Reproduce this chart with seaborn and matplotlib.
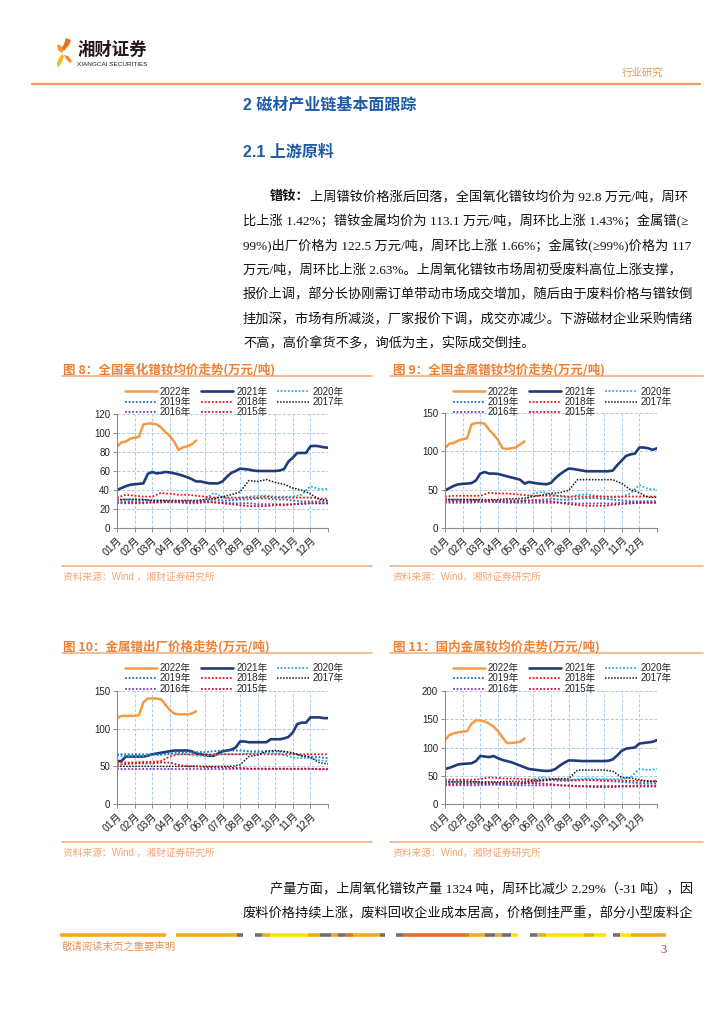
import numpy as np
import pandas as pd
import matplotlib
matplotlib.use('Agg')
import matplotlib.pyplot as plt
from matplotlib.lines import Line2D
from matplotlib.patches import Polygon
import seaborn as sns

# ---------------- data (万元/吨) ----------------
# full-year series: evenly spaced over Jan..Dec ; 2022 series: every quarter month
months = ['01月', '02月', '03月', '04月', '05月', '06月', '07月', '08月', '09月', '10月', '11月', '12月']
years = ['2022年', '2021年', '2020年', '2019年', '2018年', '2017年', '2016年', '2015年']

# 图8 全国氧化镨钕均价
c8_2022 = [86, 90, 91, 94, 95, 96, 109, 110, 110, 109, 106, 101, 97, 91, 82, 85, 86, 88, 92]
c8_2021 = [40, 42, 44, 45.5, 46, 46.5, 47, 57, 59, 57.5, 58, 59, 58.5, 57.5, 56.5, 55, 53.5, 51.5, 49, 49,
           48, 47, 47, 47, 49, 54, 58, 60, 62.5, 62, 61.5, 60.5, 60, 60, 60, 60, 60, 60.5, 62, 70,
           74, 79, 79, 79, 86, 86.5, 86, 85, 84.5]
c8_2020 = [29, 28, 28.5, 29, 28, 28, 27.5, 27, 27, 27, 30, 37, 33, 30, 31, 33, 34, 34, 33, 33, 33, 35, 44, 41, 41]
c8_2019 = [30, 30, 30, 30, 29, 29, 28, 28, 28, 28, 28, 30, 29, 29, 30, 30, 31, 31, 30, 30, 29, 28, 28, 28, 28]
c8_2018 = [32, 35, 34, 33, 33, 37, 36, 35, 35, 34, 33, 32, 32, 32, 32, 32, 32, 33, 32, 32, 32, 32, 32, 31, 31]
c8_2017 = [30, 30, 30, 30, 29, 29, 29, 29, 29, 29, 30, 31, 33, 35, 38, 50, 49, 51, 48, 46, 42, 40, 36, 30, 29]
c8_2016 = [26, 26, 26, 26, 27, 27, 27, 27, 26, 26, 27, 27, 27, 26, 26, 26, 25, 25, 25, 25, 25, 25, 26, 26, 26]
c8_2015 = [27, 27, 27, 27, 27, 27, 28, 28, 28, 28, 28, 27, 26, 25, 24, 23, 23, 23, 24, 24, 25, 26, 26, 26, 26]

# 图9 全国金属镨钕均价
c9_2022 = [104, 110, 111, 114, 116, 117, 135, 137, 137, 136, 128, 122, 115, 104, 103, 104, 105, 109, 113]
c9_2021 = [49, 52, 55, 57, 57.5, 58, 58.5, 62, 71, 73, 71, 71, 70.5, 69, 67.5, 66, 64.5, 63, 58, 60,
           59, 58, 57.5, 57, 59, 65, 70, 74, 77.5, 77, 76, 75, 74, 74, 74, 74, 74, 74, 75, 82,
           88, 94, 96, 97, 105, 105, 104, 102, 104]
c9_2020 = [38, 37, 37, 36, 36, 35, 35, 34, 34, 36, 45, 47, 44, 41, 40, 43, 44, 42, 41, 40, 41, 45, 56, 51, 50]
c9_2019 = [37, 37, 37, 37, 36, 35, 34, 34, 34, 35, 36, 37, 38, 37, 37, 38, 39, 39, 38, 37, 36, 35, 35, 35, 35]
c9_2018 = [41, 42, 42, 42, 42, 46, 45, 45, 44, 43, 42, 42, 42, 42, 41, 41, 41, 41, 41, 41, 41, 41, 41, 41, 41]
c9_2017 = [37, 37, 37, 37, 37, 37, 37, 38, 38, 39, 41, 43, 45, 46, 49, 63, 63, 63, 63, 63, 58, 50, 46, 40, 40]
c9_2016 = [33, 33, 33, 33, 34, 34, 34, 33, 33, 33, 33, 33, 33, 33, 33, 32, 32, 32, 32, 32, 33, 33, 33, 33, 33]
c9_2015 = [35, 35, 35, 35, 35, 36, 36, 36, 36, 36, 36, 35, 35, 33, 31, 30, 29, 29, 29, 30, 31, 32, 33, 33, 33]

# 图10 金属镨出厂价格
c10_2022 = [114, 117, 117, 117, 117, 118, 135, 140, 140, 140, 139, 132, 125, 120, 119, 119, 119, 120, 123]
c10_2021 = [57, 57, 63, 63, 63, 63, 63, 64, 66, 67, 68, 69, 70, 71, 71, 71, 71, 70, 67, 66,
            65, 64, 64, 67, 70, 71, 72, 75, 83, 83, 82, 82, 82, 82, 82, 86, 86, 86, 87, 89,
            95, 106, 108, 108, 115, 115, 115, 114, 114]
c10_2020 = [64, 64, 64, 64, 65, 65, 66, 66, 66, 64, 64, 65, 66, 66, 66, 67, 68, 68, 67, 65, 62, 61, 61, 58, 57]
c10_2019 = [66, 66, 66, 66, 66, 66, 67, 68, 69, 69, 69, 70, 71, 71, 71, 70, 70, 70, 70, 69, 67, 64, 63, 62, 61]
c10_2018 = [55, 55, 55, 56, 56, 57, 63, 66, 66, 66, 66, 66, 66, 66, 66, 66, 66, 66, 66, 66, 66, 66, 66, 66, 66]
c10_2017 = [50, 50, 50, 50, 50, 50, 50, 50, 50, 50, 50, 50, 50, 50, 52, 63, 65, 70, 71, 70, 68, 64, 62, 55, 53]
c10_2016 = [46, 46, 46, 46, 46, 46, 46, 46, 46, 46, 46, 46, 46, 46, 46, 46, 46, 46, 46, 46, 46, 46, 46, 46, 46]
c10_2015 = [52, 53, 54, 54, 54, 55, 55, 52, 50, 50, 49, 49, 49, 48, 48, 47, 47, 47, 47, 47, 47, 47, 47, 46, 46]

# 图11 国内金属钕均价
c11_2022 = [113, 122, 125, 127, 128, 129, 142, 148, 148, 146, 142, 137, 129, 118, 108, 108, 109, 110, 116]
c11_2021 = [62, 64, 67, 70, 71, 71.5, 72, 76, 85, 84, 83, 85, 81, 78, 76, 74, 71, 68, 65, 62,
            61, 60, 59, 58.5, 59, 62, 68, 73, 77, 77, 76.5, 76, 76, 76, 76, 76, 76, 76.5, 79, 86,
            94, 98, 99, 100, 107, 108, 109, 110, 113]
c11_2020 = [37, 37, 36, 36, 36, 35, 35, 34, 34, 36, 44, 47, 45, 43, 42, 44, 45, 45, 44, 44, 44, 47, 62, 60, 62]
c11_2019 = [40, 40, 40, 40, 39, 38, 37, 36, 36, 37, 39, 41, 42, 41, 41, 42, 43, 42, 41, 40, 39, 38, 37, 37, 37]
c11_2018 = [43, 43, 43, 43, 44, 47, 46, 45, 45, 44, 43, 43, 43, 43, 42, 42, 42, 42, 42, 42, 41, 41, 41, 41, 41]
c11_2017 = [39, 39, 39, 39, 39, 39, 39, 40, 40, 40, 41, 42, 44, 45, 45, 60, 60, 60, 60, 58, 47, 46, 43, 40, 40]
c11_2016 = [33, 33, 33, 33, 33, 34, 34, 34, 33, 33, 33, 33, 33, 33, 33, 32, 32, 32, 32, 32, 32, 32, 33, 33, 33]
c11_2015 = [35, 35, 36, 36, 36, 37, 37, 37, 37, 37, 37, 36, 35, 33, 32, 31, 31, 30, 30, 30, 31, 31, 31, 31, 31]

titles = ['图 8：全国氧化镨钕均价走势(万元/吨)', '图 9：全国金属镨钕均价走势(万元/吨)',
          '图 10：金属镨出厂价格走势(万元/吨)', '图 11：国内金属钕均价走势(万元/吨)']
sources = ['资料来源：Wind ，湘财证券研究所', '资料来源：Wind，湘财证券研究所',
           '资料来源：Wind ，湘财证券研究所', '资料来源：Wind，湘财证券研究所']
yticks = [[0, 20, 40, 60, 80, 100, 120], [0, 50, 100, 150], [0, 50, 100, 150], [0, 50, 100, 150, 200]]

body = ['上周镨钕价格涨后回落，全国氧化镨钕均价为 92.8 万元/吨，周环',
        '比上涨 1.42%；镨钕金属均价为 113.1 万元/吨，周环比上涨 1.43%；金属镨(≥',
        '99%)出厂价格为 122.5 万元/吨，周环比上涨 1.66%；金属钕(≥99%)价格为 117',
        '万元/吨，周环比上涨 2.63%。上周氧化镨钕市场周初受废料高位上涨支撑，',
        '报价上调，部分长协刚需订单带动市场成交增加，随后由于废料价格与镨钕倒',
        '挂加深，市场有所减淡，厂家报价下调，成交亦减少。下游磁材企业采购情绪',
        '不高，高价拿货不多，询低为主，实际成交倒挂。']
body2 = ['产量方面，上周氧化镨钕产量 1324 吨，周环比减少 2.29%（-31 吨），因',
         '废料价格持续上涨，废料回收企业成本居高，价格倒挂严重，部分小型废料企']

# ---------------- styles ----------------
sns.set_style('ticks')
CJK = ['Noto Sans CJK SC', 'DejaVu Sans']
SANS = ['Liberation Sans', 'Noto Sans CJK SC', 'DejaVu Sans']
SERIF = ['Liberation Serif', 'Noto Sans CJK SC', 'DejaVu Sans']
plt.rcParams['font.family'] = SANS

DOT = (0, (1, 1))
styles = {
    '2022年': dict(color='#F59A45', linestyle='-', linewidth=1.8),
    '2021年': dict(color='#1F3B7A', linestyle='-', linewidth=1.9),
    '2020年': dict(color='#1FB3E8', linestyle=DOT, linewidth=1.3),
    '2019年': dict(color='#1A73C9', linestyle=DOT, linewidth=1.3),
    '2018年': dict(color='#FF1010', linestyle=DOT, linewidth=1.3),
    '2017年': dict(color='#1A1A1A', linestyle=DOT, linewidth=1.1),
    '2016年': dict(color='#7A3FB0', linestyle=DOT, linewidth=1.3),
    '2015年': dict(color='#C8102E', linestyle=DOT, linewidth=1.3),
}
ORANGE = '#EE8033'
LIGHT = '#F3B183'

W, H = 724, 1024
fig = plt.figure(figsize=(W / 100, H / 100), dpi=100)
bg = fig.add_axes([0, 0, 1, 1])
bg.set_xlim(0, W)
bg.set_ylim(H, 0)
bg.axis('off')

# ---------------- page header ----------------
logo = [([(66, 38), (71, 40), (69, 45), (64, 51), (61, 49), (64, 44)], '#E37222'),
        ([(57, 45), (60, 45), (64, 50), (62, 53), (58, 50)], '#F39A2C'),
        ([(62, 54), (64, 56), (62, 62), (58, 68), (57, 63), (59, 58)], '#F7B52C'),
        ([(64, 55), (68, 56), (72, 61), (70, 63), (66, 59)], '#F08A24')]
for pts, col in logo:
    bg.add_patch(Polygon(pts, closed=True, color=col, lw=0))
bg.text(77, 50, '湘财证券', fontsize=12.5, fontweight='bold', family=CJK, va='center', color='#231815')
bg.text(77, 65, 'XIANGCAI SECURITIES', fontsize=4.6, family=SANS, va='center', color='#231815')
bg.text(622, 73, '行业研究', fontsize=7.5, family=CJK, va='center', color='#E8955A')
bg.plot([32, 700], [84, 84], color='#EE9A62', lw=1.6)

bg.text(243, 105, '2 磁材产业链基本面跟踪', fontsize=11.5, fontweight='bold', family=SANS,
        va='center', color='#1F5AA6')
bg.text(243, 152, '2.1 上游原料', fontsize=11.5, fontweight='bold', family=SANS,
        va='center', color='#1F5AA6')

# ---------------- body text ----------------
body_y = [197, 221.5, 246, 270.5, 295, 319.5, 344]
lead = bg.text(270, body_y[0], '镨钕：', fontsize=9.5, fontweight='bold', family=SERIF, va='center', color='#111')
bg.annotate(body[0], xy=(1, 0.5), xycoords=lead, va='center', ha='left', fontsize=9.5, family=SERIF, color='#111')
for txt, y in zip(body[1:], body_y[1:]):
    bg.text(243, y, txt, fontsize=9.5, family=SERIF, va='center', color='#111')
bg.text(270, 890, body2[0], fontsize=9.5, family=SERIF, va='center', color='#111')
bg.text(243, 914, body2[1], fontsize=9.5, family=SERIF, va='center', color='#111')

# ---------------- charts ----------------
# (axes box l, t, r, b), title x/y, block x-range, source y, legend anchor x/y
layout = [((117, 414, 328, 528), 63, 370, (62, 372), 577, (125, 402)),
          ((445, 413, 657, 528), 393, 370, (390, 703), 577, (453, 402)),
          ((117, 691, 328, 804), 63, 647, (62, 372), 853, (125, 678.5)),
          ((445, 691, 657, 804), 393, 647, (390, 703), 853, (453, 678.5))]
chart_data = [[c8_2022, c8_2021, c8_2020, c8_2019, c8_2018, c8_2017, c8_2016, c8_2015],
              [c9_2022, c9_2021, c9_2020, c9_2019, c9_2018, c9_2017, c9_2016, c9_2015],
              [c10_2022, c10_2021, c10_2020, c10_2019, c10_2018, c10_2017, c10_2016, c10_2015],
              [c11_2022, c11_2021, c11_2020, c11_2019, c11_2018, c11_2017, c11_2016, c11_2015]]

for i, (box, tx, ty, xr, sy, lg) in enumerate(layout):
    l, t, r, b = box
    ax = fig.add_axes([l / W, 1 - b / H, (r - l) / W, (b - t) / H])
    for name, vals in zip(years, chart_data[i]):
        if name == '2022年':
            x = np.arange(len(vals)) * 0.25
        else:
            x = np.linspace(0, 12, len(vals))
        df = pd.DataFrame({'month': x, 'price': vals})
        sns.lineplot(data=df, x='month', y='price', ax=ax, legend=False, **styles[name])

    ax.set_xlim(0, 12)
    ax.set_ylim(0, yticks[i][-1])
    ax.set_yticks(yticks[i])
    ax.set_xticks(range(13))
    ax.set_xticklabels(months + [''])
    plt.setp(ax.get_xticklabels(), rotation=45, ha='right', rotation_mode='anchor')
    ax.set_xlabel('')
    ax.set_ylabel('')
    ax.grid(True, color='#A9C8E8', linestyle=(0, (3, 2)), linewidth=0.7)
    for s in ['top', 'right']:
        ax.spines[s].set_visible(False)
    for s in ['left', 'bottom']:
        ax.spines[s].set_color('#8C8C8C')
        ax.spines[s].set_linewidth(0.8)
    ax.tick_params(labelsize=7, length=3, width=0.7, color='#8C8C8C', labelcolor='#222', pad=2)
    ax.tick_params(axis='x', labelsize=7.5)

    handles = [Line2D([], [], **styles[n]) for n in years]
    order = [0, 3, 6, 1, 4, 7, 2, 5]
    ax.legend([handles[k] for k in order], [years[k] for k in order], ncols=3,
              loc='center left', bbox_to_anchor=(lg[0] / W, 1 - lg[1] / H), bbox_transform=fig.transFigure,
              frameon=False, fontsize=7, handlelength=3.3, handletextpad=0.3, columnspacing=1.0,
              labelspacing=0.05, borderpad=0, borderaxespad=0)

    bg.text(tx, ty, titles[i], fontsize=9, fontweight='bold', family=CJK, va='center', color=ORANGE)
    bg.plot(xr, [ty + 6, ty + 6], color=LIGHT, lw=1.2)
    bg.plot(xr, [sy - 11, sy - 11], color=LIGHT, lw=1.2)
    bg.text(tx, sy, sources[i], fontsize=7, family=SANS, va='center', color='#F4A56E')

# ---------------- footer ----------------
footer = [(60, 166, '#F7A823'), (176, 237, '#F7A823'), (237, 243, '#707070'),
          (255, 262, '#707070'), (262, 270, '#F7A823'), (270, 308, '#FFE600'), (308, 320, '#F7A823'),
          (320, 331, '#707070'), (331, 338, '#F7A823'), (338, 345, '#707070'), (345, 353, '#E37222'),
          (353, 380, '#F7A823'), (380, 385, '#707070'),
          (396, 403, '#707070'), (403, 469, '#E37222'), (469, 485, '#F7A823'), (485, 495, '#707070'),
          (495, 502, '#F7A823'), (502, 511, '#707070'), (511, 518, '#FFE600'),
          (530, 537, '#707070'), (537, 546, '#F7A823'), (546, 584, '#FFE600'), (584, 594, '#F7A823'),
          (594, 606, '#FFE600'), (613, 620, '#707070'), (620, 631, '#FFE600'), (631, 666, '#F7A823')]
for x0, x1, col in footer:
    bg.plot([x0, x1], [935, 935], color=col, lw=2.6, solid_capstyle='butt')
bg.text(62, 947, '敬请阅读末页之重要声明', fontsize=7.5, family=CJK, va='center', color='#E8955A')
bg.text(660, 950, '3', fontsize=9, family=SERIF, va='center', color='#C0392B')

fig.savefig('out.png', dpi=100)
